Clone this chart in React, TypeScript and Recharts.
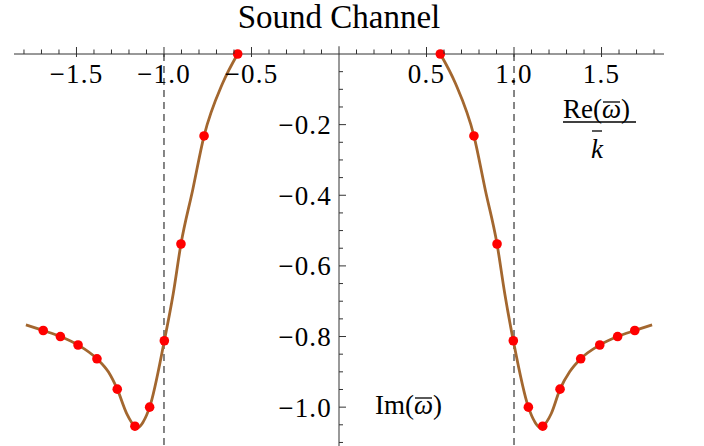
import { ComposedChart, Line, Scatter, XAxis, YAxis, ReferenceLine, ReferenceDot } from "recharts"

// curve samples (left and right branches)
const leftCurveX = [-1.789, -1.69, -1.592, -1.491, -1.383, -1.318, -1.267, -1.213, -1.166, -1.147, -1.118, -1.082, -0.998, -0.947, -0.903, -0.836, -0.771, -0.665, -0.579]
const leftCurveY = [-0.767, -0.783, -0.8, -0.824, -0.863, -0.9, -0.949, -1.018, -1.054, -1.057, -1.041, -1.0, -0.812, -0.678, -0.538, -0.385, -0.232, -0.083, 0]
const rightCurveX = [0.579, 0.665, 0.771, 0.836, 0.903, 0.947, 0.996, 1.082, 1.118, 1.147, 1.164, 1.213, 1.263, 1.318, 1.381, 1.49, 1.592, 1.69, 1.789]
const rightCurveY = [0, -0.083, -0.232, -0.385, -0.538, -0.678, -0.812, -1.0, -1.041, -1.057, -1.054, -1.018, -0.949, -0.9, -0.863, -0.824, -0.8, -0.783, -0.767]

// red sample points
const leftDotX = [-1.69, -1.592, -1.491, -1.383, -1.267, -1.166, -1.082, -0.998, -0.903, -0.771, -0.579]
const leftDotY = [-0.783, -0.8, -0.824, -0.863, -0.949, -1.054, -1.0, -0.812, -0.538, -0.232, 0]
const rightDotX = [0.579, 0.771, 0.903, 0.996, 1.082, 1.164, 1.263, 1.381, 1.49, 1.592, 1.69]
const rightDotY = [0, -0.232, -0.538, -0.812, -1.0, -1.054, -0.949, -0.863, -0.824, -0.8, -0.783]

const xTicks = [-1.8, -1.7, -1.6, -1.5, -1.4, -1.3, -1.2, -1.1, -1.0, -0.9, -0.8, -0.7, -0.6, -0.5, -0.4, -0.3, -0.2, -0.1,
  0.1, 0.2, 0.3, 0.4, 0.5, 0.6, 0.7, 0.8, 0.9, 1.0, 1.1, 1.2, 1.3, 1.4, 1.5, 1.6, 1.7, 1.8]
const xMajor = [-1.5, -1.0, -0.5, 0.5, 1.0, 1.5]
const yTicks = [-0.05, -0.1, -0.15, -0.2, -0.25, -0.3, -0.35, -0.4, -0.45, -0.5, -0.55, -0.6, -0.65, -0.7, -0.75, -0.8,
  -0.85, -0.9, -0.95, -1.0, -1.05, -1.1]
const yMajor = [-0.2, -0.4, -0.6, -0.8, -1.0]
const dashedAt = [-1, 1]

const zip = (xs: number[], ys: number[]) => xs.map((x, i) => ({ x, y: ys[i] }))
const leftCurve = zip(leftCurveX, leftCurveY)
const rightCurve = zip(rightCurveX, rightCurveY)
const leftDots = zip(leftDotX, leftDotY)
const rightDots = zip(rightDotX, rightDotY)

const FONT = "'Liberation Serif', 'Times New Roman', serif"
const BROWN = "#a3672f"
const fmt = (v: number) => (v < 0 ? "\u2212" : "") + Math.abs(v).toFixed(1)
const isMajor = (list: number[], v: number) => list.some((m) => Math.abs(m - v) < 1e-6)

function XTick({ x, y, payload }: any) {
  const major = isMajor(xMajor, payload.value)
  return (
    <g>
      <line x1={x} x2={x} y1={y - (major ? 7 : 4.5)} y2={y + (major ? 3 : 0)} stroke="#333" strokeWidth={1} />
      {major && (
        <text x={x} y={y + 29} textAnchor="middle" fontSize={27} fontFamily={FONT} fill="#000" letterSpacing={1.2}>
          {fmt(payload.value)}
        </text>
      )}
    </g>
  )
}

const yTickShape = (v: number) => (props: any) => {
  const major = isMajor(yMajor, v)
  return (
    <g>
      <line x1={props.cx} x2={props.cx + (major ? 7 : 4)} y1={props.cy} y2={props.cy} stroke="#333" strokeWidth={1} />
      {major && (
        <text x={props.cx - 7} y={props.cy} dy="0.35em" textAnchor="end" fontSize={27} fontFamily={FONT} fill="#000" letterSpacing={1.2}>
          {fmt(v)}
        </text>
      )}
    </g>
  )
}

const redDot = (p: any) => <circle cx={p.cx} cy={p.cy} r={4.8} fill="#ff0000" />

export default function App() {
  return (
    <div style={{ position: "absolute", left: 0, top: 0, width: 704, height: 446, background: "#fff" }}>
      <ComposedChart width={704} height={446} margin={{ top: 53, right: 40, bottom: 0, left: 14 }}>
        <XAxis
          type="number"
          dataKey="x"
          orientation="top"
          domain={[-1.857, 1.857]}
          ticks={xTicks}
          interval={0}
          height={1}
          tickSize={0}
          tickMargin={0}
          tickLine={false}
          axisLine={{ stroke: "#333", strokeWidth: 1 }}
          tick={XTick}
        />
        <YAxis type="number" dataKey="y" domain={[-1.11, 0]} hide />
        <ReferenceLine
          segment={[{ x: 0, y: 0.022 }, { x: 0, y: -1.11 }]}
          stroke="#555"
          strokeWidth={1.2}
          ifOverflow="visible"
        />
        {yTicks.map((v) => (
          <ReferenceDot key={v} x={0} y={v} r={0} shape={yTickShape(v)} ifOverflow="visible" />
        ))}
        {dashedAt.map((v) => (
          <ReferenceLine key={v} x={v} stroke="#444" strokeDasharray="7 5" strokeWidth={1.3} />
        ))}
        <Line data={leftCurve} dataKey="y" type="monotone" stroke={BROWN} strokeWidth={2.8} dot={false} isAnimationActive={false} />
        <Line data={rightCurve} dataKey="y" type="monotone" stroke={BROWN} strokeWidth={2.8} dot={false} isAnimationActive={false} />
        <Scatter data={leftDots} dataKey="y" shape={redDot} isAnimationActive={false} />
        <Scatter data={rightDots} dataKey="y" shape={redDot} isAnimationActive={false} />
      </ComposedChart>
      <svg width={704} height={446} style={{ position: "absolute", left: 0, top: 0, pointerEvents: "none" }}>
        <text x={339} y={28} textAnchor="middle" fontSize={33} fontFamily={FONT} fill="#000">
          Sound Channel
        </text>
        <text x={563} y={118} fontSize={27} fontFamily={FONT} fill="#000">
          Re(<tspan fontStyle="italic">ω</tspan>)
        </text>
        <line x1={603} x2={620} y1={102} y2={102} stroke="#000" strokeWidth={1.3} />
        <line x1={563} x2={636} y1={122} y2={122} stroke="#000" strokeWidth={1.5} />
        <text x={597} y={158} textAnchor="middle" fontSize={27} fontFamily={FONT} fontStyle="italic" fill="#000">
          k
        </text>
        <line x1={592} x2={602} y1={131} y2={131} stroke="#000" strokeWidth={1.3} />
        <text x={375} y={414} fontSize={27} fontFamily={FONT} fill="#000">
          Im(<tspan fontStyle="italic">ω</tspan>)
        </text>
        <line x1={415} x2={432} y1={398} y2={398} stroke="#000" strokeWidth={1.3} />
      </svg>
    </div>
  )
}
